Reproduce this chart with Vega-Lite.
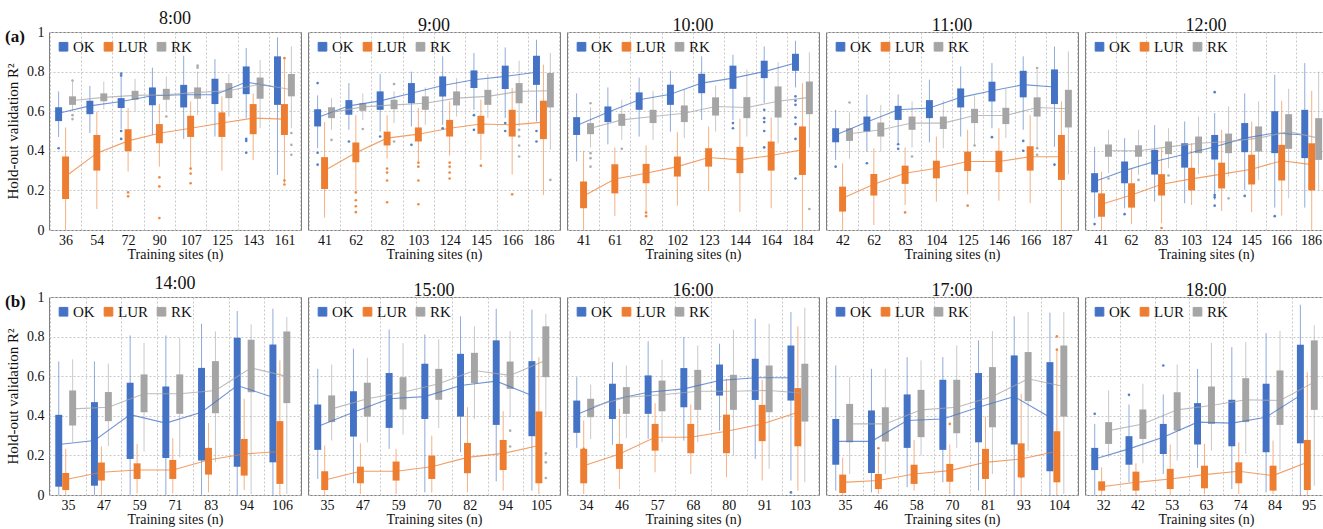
{
"$schema":"https://vega.github.io/schema/vega-lite/v6.json",
"padding":{"left":5,"top":9,"right":0,"bottom":0},
"background":"white",
"config":{
 "font":"Liberation Serif",
 "view":{"stroke":"#7f7f7f","strokeWidth":1},
 "title":{"font":"Liberation Serif","fontSize":18,"fontWeight":"normal","offset":-3,"color":"#111"},
 "axisX":{"labelAngle":0,"ticks":false,"domain":false,"grid":true,"gridDash":[2,2],"gridColor":"#c8c8c8","tickBand":"extent","labelFontSize":14,"labelFont":"Liberation Serif","labelColor":"#111","labelPadding":3,"titleFontSize":14,"titleFont":"Liberation Serif","titleFontWeight":"normal","titleColor":"#111","titlePadding":0},
 "axisY":{"values":[0,0.1,0.2,0.3,0.4,0.5,0.6,0.7,0.8,0.9,1],"labelExpr":"round(datum.value*10) % 2 == 1 ? '' : (datum.value == 0 ? '0' : (datum.value >= 1 ? '1' : format(datum.value, '.1f')))","ticks":false,"domain":false,"grid":true,"gridDash":[2,2],"gridColor":"#c8c8c8","labelFontSize":14,"labelFont":"Liberation Serif","labelColor":"#111","labelPadding":5,"titleFontSize":15,"titleFont":"Liberation Serif","titleFontWeight":"normal","titleColor":"#111","titlePadding":6},
 "legend":{"orient":"top-left","direction":"horizontal","symbolType":"square","symbolSize":75,"symbolStrokeWidth":0,"symbolOpacity":1,"labelFontSize":15,"labelFont":"Liberation Serif","labelColor":"#111","offset":7,"columnPadding":6,"labelOffset":2,"padding":0},
 "rule":{"strokeWidth":1,"opacity":0.6},
 "line":{"strokeWidth":1.1,"opacity":0.75},
 "circle":{"size":7,"opacity":0.9}
},
"datasets":{
"b":[
{"h":"8:00","n":36,"m":"OK","lo":0.47,"q1":0.55,"q3":0.62,"hi":0.70,"mu":0.59},
{"h":"8:00","n":54,"m":"OK","lo":0.49,"q1":0.585,"q3":0.653,"hi":0.728,"mu":0.627},
{"h":"8:00","n":72,"m":"OK","lo":0.51,"q1":0.616,"q3":0.666,"hi":0.776,"mu":0.649},
{"h":"8:00","n":90,"m":"OK","lo":0.48,"q1":0.63,"q3":0.72,"hi":0.82,"mu":0.678},
{"h":"8:00","n":107,"m":"OK","lo":0.46,"q1":0.619,"q3":0.733,"hi":0.88,"mu":0.683},
{"h":"8:00","n":125,"m":"OK","lo":0.472,"q1":0.636,"q3":0.764,"hi":0.863,"mu":0.683},
{"h":"8:00","n":143,"m":"OK","lo":0.565,"q1":0.686,"q3":0.826,"hi":0.919,"mu":0.747},
{"h":"8:00","n":161,"m":"OK","lo":0.278,"q1":0.632,"q3":0.877,"hi":0.973,"mu":0.72},
{"h":"8:00","n":36,"m":"LUR","lo":0,"q1":0.157,"q3":0.371,"hi":0.518,"mu":0.27},
{"h":"8:00","n":54,"m":"LUR","lo":0.106,"q1":0.30,"q3":0.48,"hi":0.599,"mu":0.388},
{"h":"8:00","n":72,"m":"LUR","lo":0.295,"q1":0.398,"q3":0.509,"hi":0.616,"mu":0.45},
{"h":"8:00","n":90,"m":"LUR","lo":0.32,"q1":0.438,"q3":0.535,"hi":0.636,"mu":0.489},
{"h":"8:00","n":107,"m":"LUR","lo":0.315,"q1":0.47,"q3":0.577,"hi":0.65,"mu":0.514},
{"h":"8:00","n":125,"m":"LUR","lo":0.30,"q1":0.47,"q3":0.594,"hi":0.675,"mu":0.54},
{"h":"8:00","n":143,"m":"LUR","lo":0.354,"q1":0.484,"q3":0.636,"hi":0.69,"mu":0.565},
{"h":"8:00","n":161,"m":"LUR","lo":0.236,"q1":0.48,"q3":0.636,"hi":0.86,"mu":0.56},
{"h":"8:00","n":36,"m":"RK","lo":0.599,"q1":0.632,"q3":0.675,"hi":0.75,"mu":0.654},
{"h":"8:00","n":54,"m":"RK","lo":0.61,"q1":0.65,"q3":0.69,"hi":0.75,"mu":0.67},
{"h":"8:00","n":72,"m":"RK","lo":0.599,"q1":0.658,"q3":0.703,"hi":0.764,"mu":0.68},
{"h":"8:00","n":90,"m":"RK","lo":0.60,"q1":0.658,"q3":0.713,"hi":0.776,"mu":0.683},
{"h":"8:00","n":107,"m":"RK","lo":0.58,"q1":0.663,"q3":0.72,"hi":0.80,"mu":0.695},
{"h":"8:00","n":125,"m":"RK","lo":0.573,"q1":0.666,"q3":0.742,"hi":0.788,"mu":0.703},
{"h":"8:00","n":143,"m":"RK","lo":0.514,"q1":0.663,"q3":0.77,"hi":0.858,"mu":0.737},
{"h":"8:00","n":161,"m":"RK","lo":0.514,"q1":0.675,"q3":0.788,"hi":0.927,"mu":0.708},
{"h":"9:00","n":41,"m":"OK","lo":0.413,"q1":0.523,"q3":0.61,"hi":0.68,"mu":0.568},
{"h":"9:00","n":62,"m":"OK","lo":0.506,"q1":0.582,"q3":0.656,"hi":0.742,"mu":0.627},
{"h":"9:00","n":82,"m":"OK","lo":0.497,"q1":0.607,"q3":0.70,"hi":0.788,"mu":0.652},
{"h":"9:00","n":103,"m":"OK","lo":0.523,"q1":0.64,"q3":0.742,"hi":0.80,"mu":0.691},
{"h":"9:00","n":124,"m":"OK","lo":0.531,"q1":0.674,"q3":0.776,"hi":0.877,"mu":0.73},
{"h":"9:00","n":145,"m":"OK","lo":0.607,"q1":0.717,"q3":0.806,"hi":0.894,"mu":0.759},
{"h":"9:00","n":166,"m":"OK","lo":0.565,"q1":0.712,"q3":0.83,"hi":0.922,"mu":0.776},
{"h":"9:00","n":186,"m":"OK","lo":0.548,"q1":0.733,"q3":0.88,"hi":0.961,"mu":0.797},
{"h":"9:00","n":41,"m":"LUR","lo":0.062,"q1":0.207,"q3":0.368,"hi":0.545,"mu":0.30},
{"h":"9:00","n":62,"m":"LUR","lo":0.20,"q1":0.342,"q3":0.442,"hi":0.58,"mu":0.39},
{"h":"9:00","n":82,"m":"LUR","lo":0.36,"q1":0.427,"q3":0.497,"hi":0.58,"mu":0.464},
{"h":"9:00","n":103,"m":"LUR","lo":0.346,"q1":0.447,"q3":0.518,"hi":0.616,"mu":0.484},
{"h":"9:00","n":124,"m":"LUR","lo":0.376,"q1":0.472,"q3":0.556,"hi":0.65,"mu":0.514},
{"h":"9:00","n":145,"m":"LUR","lo":0.354,"q1":0.486,"q3":0.577,"hi":0.658,"mu":0.535},
{"h":"9:00","n":166,"m":"LUR","lo":0.28,"q1":0.472,"q3":0.607,"hi":0.717,"mu":0.531},
{"h":"9:00","n":186,"m":"LUR","lo":0.177,"q1":0.459,"q3":0.653,"hi":0.835,"mu":0.545},
{"h":"9:00","n":41,"m":"RK","lo":0.506,"q1":0.565,"q3":0.62,"hi":0.666,"mu":0.594},
{"h":"9:00","n":62,"m":"RK","lo":0.556,"q1":0.602,"q3":0.641,"hi":0.69,"mu":0.622},
{"h":"9:00","n":82,"m":"RK","lo":0.54,"q1":0.61,"q3":0.658,"hi":0.70,"mu":0.632},
{"h":"9:00","n":103,"m":"RK","lo":0.531,"q1":0.607,"q3":0.675,"hi":0.72,"mu":0.64},
{"h":"9:00","n":124,"m":"RK","lo":0.573,"q1":0.629,"q3":0.70,"hi":0.767,"mu":0.666},
{"h":"9:00","n":145,"m":"RK","lo":0.565,"q1":0.632,"q3":0.708,"hi":0.788,"mu":0.675},
{"h":"9:00","n":166,"m":"RK","lo":0.523,"q1":0.64,"q3":0.742,"hi":0.855,"mu":0.70},
{"h":"9:00","n":186,"m":"RK","lo":0.405,"q1":0.619,"q3":0.793,"hi":0.894,"mu":0.703},
{"h":"10:00","n":41,"m":"OK","lo":0.346,"q1":0.48,"q3":0.57,"hi":0.69,"mu":0.528},
{"h":"10:00","n":61,"m":"OK","lo":0.433,"q1":0.545,"q3":0.624,"hi":0.72,"mu":0.595},
{"h":"10:00","n":82,"m":"OK","lo":0.472,"q1":0.607,"q3":0.695,"hi":0.77,"mu":0.658},
{"h":"10:00","n":102,"m":"OK","lo":0.497,"q1":0.632,"q3":0.734,"hi":0.804,"mu":0.686},
{"h":"10:00","n":123,"m":"OK","lo":0.556,"q1":0.691,"q3":0.789,"hi":0.877,"mu":0.742},
{"h":"10:00","n":144,"m":"OK","lo":0.556,"q1":0.713,"q3":0.83,"hi":0.885,"mu":0.767},
{"h":"10:00","n":164,"m":"OK","lo":0.64,"q1":0.767,"q3":0.855,"hi":0.927,"mu":0.80},
{"h":"10:00","n":184,"m":"OK","lo":0.72,"q1":0.804,"q3":0.89,"hi":0.956,"mu":0.843},
{"h":"10:00","n":41,"m":"LUR","lo":0,"q1":0.11,"q3":0.245,"hi":0.40,"mu":0.172},
{"h":"10:00","n":61,"m":"LUR","lo":0.07,"q1":0.185,"q3":0.332,"hi":0.417,"mu":0.258},
{"h":"10:00","n":82,"m":"LUR","lo":0.093,"q1":0.236,"q3":0.334,"hi":0.427,"mu":0.287},
{"h":"10:00","n":102,"m":"LUR","lo":0.123,"q1":0.27,"q3":0.371,"hi":0.494,"mu":0.32},
{"h":"10:00","n":123,"m":"LUR","lo":0.20,"q1":0.32,"q3":0.413,"hi":0.523,"mu":0.366},
{"h":"10:00","n":144,"m":"LUR","lo":0.09,"q1":0.287,"q3":0.42,"hi":0.562,"mu":0.354},
{"h":"10:00","n":164,"m":"LUR","lo":0.11,"q1":0.30,"q3":0.447,"hi":0.568,"mu":0.376},
{"h":"10:00","n":184,"m":"LUR","lo":0,"q1":0.278,"q3":0.523,"hi":0.742,"mu":0.405},
{"h":"10:00","n":41,"m":"RK","lo":0.417,"q1":0.484,"q3":0.54,"hi":0.62,"mu":0.514},
{"h":"10:00","n":61,"m":"RK","lo":0.455,"q1":0.526,"q3":0.587,"hi":0.658,"mu":0.556},
{"h":"10:00","n":82,"m":"RK","lo":0.455,"q1":0.54,"q3":0.607,"hi":0.703,"mu":0.573},
{"h":"10:00","n":102,"m":"RK","lo":0.464,"q1":0.545,"q3":0.629,"hi":0.712,"mu":0.59},
{"h":"10:00","n":123,"m":"RK","lo":0.497,"q1":0.578,"q3":0.67,"hi":0.73,"mu":0.624},
{"h":"10:00","n":144,"m":"RK","lo":0.472,"q1":0.565,"q3":0.671,"hi":0.81,"mu":0.619},
{"h":"10:00","n":164,"m":"RK","lo":0.438,"q1":0.568,"q3":0.725,"hi":0.848,"mu":0.65},
{"h":"10:00","n":184,"m":"RK","lo":0.417,"q1":0.585,"q3":0.75,"hi":0.897,"mu":0.67},
{"h":"11:00","n":42,"m":"OK","lo":0.354,"q1":0.443,"q3":0.514,"hi":0.607,"mu":0.48},
{"h":"11:00","n":62,"m":"OK","lo":0.396,"q1":0.497,"q3":0.573,"hi":0.683,"mu":0.545},
{"h":"11:00","n":83,"m":"OK","lo":0.438,"q1":0.556,"q3":0.627,"hi":0.685,"mu":0.607},
{"h":"11:00","n":104,"m":"OK","lo":0.443,"q1":0.565,"q3":0.656,"hi":0.759,"mu":0.616},
{"h":"11:00","n":125,"m":"OK","lo":0.472,"q1":0.619,"q3":0.715,"hi":0.826,"mu":0.67},
{"h":"11:00","n":146,"m":"OK","lo":0.514,"q1":0.649,"q3":0.749,"hi":0.843,"mu":0.703},
{"h":"11:00","n":166,"m":"OK","lo":0.506,"q1":0.67,"q3":0.804,"hi":0.877,"mu":0.734},
{"h":"11:00","n":187,"m":"OK","lo":0.42,"q1":0.636,"q3":0.811,"hi":0.927,"mu":0.722},
{"h":"11:00","n":42,"m":"LUR","lo":0,"q1":0.093,"q3":0.219,"hi":0.337,"mu":0.16},
{"h":"11:00","n":62,"m":"LUR","lo":0.025,"q1":0.174,"q3":0.283,"hi":0.413,"mu":0.231},
{"h":"11:00","n":83,"m":"LUR","lo":0.126,"q1":0.233,"q3":0.325,"hi":0.417,"mu":0.287},
{"h":"11:00","n":104,"m":"LUR","lo":0.143,"q1":0.261,"q3":0.35,"hi":0.472,"mu":0.312},
{"h":"11:00","n":125,"m":"LUR","lo":0.18,"q1":0.298,"q3":0.396,"hi":0.506,"mu":0.346},
{"h":"11:00","n":146,"m":"LUR","lo":0.148,"q1":0.292,"q3":0.40,"hi":0.514,"mu":0.346},
{"h":"11:00","n":166,"m":"LUR","lo":0.135,"q1":0.30,"q3":0.423,"hi":0.58,"mu":0.37},
{"h":"11:00","n":187,"m":"LUR","lo":0,"q1":0.253,"q3":0.48,"hi":0.65,"mu":0.37},
{"h":"11:00","n":42,"m":"RK","lo":0.36,"q1":0.45,"q3":0.514,"hi":0.594,"mu":0.486},
{"h":"11:00","n":62,"m":"RK","lo":0.396,"q1":0.472,"q3":0.543,"hi":0.632,"mu":0.506},
{"h":"11:00","n":83,"m":"RK","lo":0.417,"q1":0.506,"q3":0.573,"hi":0.65,"mu":0.54},
{"h":"11:00","n":104,"m":"RK","lo":0.413,"q1":0.51,"q3":0.573,"hi":0.653,"mu":0.54},
{"h":"11:00","n":125,"m":"RK","lo":0.428,"q1":0.54,"q3":0.612,"hi":0.68,"mu":0.578},
{"h":"11:00","n":146,"m":"RK","lo":0.464,"q1":0.535,"q3":0.617,"hi":0.713,"mu":0.578},
{"h":"11:00","n":166,"m":"RK","lo":0.413,"q1":0.573,"q3":0.67,"hi":0.81,"mu":0.619},
{"h":"11:00","n":187,"m":"RK","lo":0.28,"q1":0.518,"q3":0.708,"hi":0.902,"mu":0.612},
{"h":"12:00","n":41,"m":"OK","lo":0.06,"q1":0.19,"q3":0.287,"hi":0.42,"mu":0.245},
{"h":"12:00","n":62,"m":"OK","lo":0.11,"q1":0.236,"q3":0.346,"hi":0.464,"mu":0.30},
{"h":"12:00","n":83,"m":"OK","lo":0.143,"q1":0.28,"q3":0.405,"hi":0.53,"mu":0.346},
{"h":"12:00","n":103,"m":"OK","lo":0.135,"q1":0.315,"q3":0.438,"hi":0.548,"mu":0.383},
{"h":"12:00","n":124,"m":"OK","lo":0.152,"q1":0.356,"q3":0.48,"hi":0.59,"mu":0.42},
{"h":"12:00","n":145,"m":"OK","lo":0.20,"q1":0.393,"q3":0.54,"hi":0.69,"mu":0.464},
{"h":"12:00","n":166,"m":"OK","lo":0.113,"q1":0.388,"q3":0.60,"hi":0.784,"mu":0.49},
{"h":"12:00","n":186,"m":"OK","lo":0.113,"q1":0.363,"q3":0.607,"hi":0.843,"mu":0.48},
{"h":"12:00","n":41,"m":"LUR","lo":0,"q1":0.067,"q3":0.185,"hi":0.295,"mu":0.13},
{"h":"12:00","n":62,"m":"LUR","lo":0.03,"q1":0.113,"q3":0.236,"hi":0.312,"mu":0.177},
{"h":"12:00","n":83,"m":"LUR","lo":0.034,"q1":0.174,"q3":0.282,"hi":0.413,"mu":0.231},
{"h":"12:00","n":103,"m":"LUR","lo":0.126,"q1":0.20,"q3":0.314,"hi":0.438,"mu":0.258},
{"h":"12:00","n":124,"m":"LUR","lo":0.096,"q1":0.21,"q3":0.34,"hi":0.506,"mu":0.282},
{"h":"12:00","n":145,"m":"LUR","lo":0.09,"q1":0.23,"q3":0.38,"hi":0.548,"mu":0.307},
{"h":"12:00","n":166,"m":"LUR","lo":0.073,"q1":0.25,"q3":0.43,"hi":0.653,"mu":0.35},
{"h":"12:00","n":186,"m":"LUR","lo":0,"q1":0.20,"q3":0.438,"hi":0.703,"mu":0.33},
{"h":"12:00","n":41,"m":"RK","lo":0.287,"q1":0.37,"q3":0.432,"hi":0.506,"mu":0.40},
{"h":"12:00","n":62,"m":"RK","lo":0.278,"q1":0.37,"q3":0.428,"hi":0.506,"mu":0.40},
{"h":"12:00","n":83,"m":"RK","lo":0.312,"q1":0.383,"q3":0.447,"hi":0.514,"mu":0.42},
{"h":"12:00","n":103,"m":"RK","lo":0.282,"q1":0.388,"q3":0.472,"hi":0.573,"mu":0.438},
{"h":"12:00","n":124,"m":"RK","lo":0.27,"q1":0.388,"q3":0.487,"hi":0.624,"mu":0.447},
{"h":"12:00","n":145,"m":"RK","lo":0.253,"q1":0.396,"q3":0.523,"hi":0.65,"mu":0.464},
{"h":"12:00","n":166,"m":"RK","lo":0.16,"q1":0.41,"q3":0.585,"hi":0.713,"mu":0.497},
{"h":"12:00","n":186,"m":"RK","lo":0.20,"q1":0.354,"q3":0.565,"hi":0.80,"mu":0.464},
{"h":"14:00","n":35,"m":"OK","lo":0,"q1":0.042,"q3":0.405,"hi":0.675,"mu":0.255},
{"h":"14:00","n":47,"m":"OK","lo":0,"q1":0.047,"q3":0.469,"hi":0.675,"mu":0.275},
{"h":"14:00","n":59,"m":"OK","lo":0,"q1":0.182,"q3":0.567,"hi":0.806,"mu":0.406},
{"h":"14:00","n":71,"m":"OK","lo":0,"q1":0.187,"q3":0.548,"hi":0.806,"mu":0.363},
{"h":"14:00","n":83,"m":"OK","lo":0,"q1":0.174,"q3":0.642,"hi":0.865,"mu":0.418},
{"h":"14:00","n":94,"m":"OK","lo":0,"q1":0.143,"q3":0.794,"hi":0.929,"mu":0.553},
{"h":"14:00","n":106,"m":"OK","lo":0,"q1":0.165,"q3":0.76,"hi":0.941,"mu":0.494},
{"h":"14:00","n":35,"m":"LUR","lo":0,"q1":0.025,"q3":0.111,"hi":0.233,"mu":0.078},
{"h":"14:00","n":47,"m":"LUR","lo":0,"q1":0.073,"q3":0.164,"hi":0.245,"mu":0.115},
{"h":"14:00","n":59,"m":"LUR","lo":0.008,"q1":0.081,"q3":0.16,"hi":0.258,"mu":0.126},
{"h":"14:00","n":71,"m":"LUR","lo":0.008,"q1":0.081,"q3":0.177,"hi":0.287,"mu":0.126},
{"h":"14:00","n":83,"m":"LUR","lo":0.013,"q1":0.103,"q3":0.238,"hi":0.363,"mu":0.177},
{"h":"14:00","n":94,"m":"LUR","lo":0.025,"q1":0.098,"q3":0.283,"hi":0.486,"mu":0.207},
{"h":"14:00","n":106,"m":"LUR","lo":0,"q1":0.056,"q3":0.373,"hi":0.68,"mu":0.22},
{"h":"14:00","n":35,"m":"RK","lo":0.266,"q1":0.351,"q3":0.528,"hi":0.685,"mu":0.435},
{"h":"14:00","n":47,"m":"RK","lo":0.246,"q1":0.373,"q3":0.52,"hi":0.663,"mu":0.443},
{"h":"14:00","n":59,"m":"RK","lo":0.219,"q1":0.418,"q3":0.609,"hi":0.769,"mu":0.511},
{"h":"14:00","n":71,"m":"RK","lo":0.19,"q1":0.41,"q3":0.609,"hi":0.793,"mu":0.511},
{"h":"14:00","n":83,"m":"RK","lo":0.165,"q1":0.413,"q3":0.676,"hi":0.826,"mu":0.528},
{"h":"14:00","n":94,"m":"RK","lo":0.005,"q1":0.519,"q3":0.784,"hi":0.862,"mu":0.642},
{"h":"14:00","n":106,"m":"RK","lo":0.005,"q1":0.464,"q3":0.826,"hi":0.899,"mu":0.599},
{"h":"15:00","n":35,"m":"OK","lo":0.081,"q1":0.228,"q3":0.457,"hi":0.637,"mu":0.346},
{"h":"15:00","n":47,"m":"OK","lo":0.059,"q1":0.295,"q3":0.524,"hi":0.739,"mu":0.418},
{"h":"15:00","n":59,"m":"OK","lo":0.233,"q1":0.339,"q3":0.616,"hi":0.836,"mu":0.486},
{"h":"15:00","n":70,"m":"OK","lo":0.013,"q1":0.384,"q3":0.663,"hi":0.811,"mu":0.497},
{"h":"15:00","n":82,"m":"OK","lo":0.216,"q1":0.396,"q3":0.713,"hi":0.902,"mu":0.553},
{"h":"15:00","n":94,"m":"OK","lo":0.069,"q1":0.354,"q3":0.781,"hi":0.941,"mu":0.575},
{"h":"15:00","n":105,"m":"OK","lo":0.022,"q1":0.297,"q3":0.676,"hi":0.936,"mu":0.503},
{"h":"15:00","n":35,"m":"LUR","lo":0,"q1":0.025,"q3":0.12,"hi":0.25,"mu":0.076},
{"h":"15:00","n":47,"m":"LUR","lo":0.005,"q1":0.059,"q3":0.143,"hi":0.261,"mu":0.12},
{"h":"15:00","n":59,"m":"LUR","lo":0.005,"q1":0.073,"q3":0.169,"hi":0.233,"mu":0.12},
{"h":"15:00","n":70,"m":"LUR","lo":0.013,"q1":0.081,"q3":0.199,"hi":0.30,"mu":0.143},
{"h":"15:00","n":82,"m":"LUR","lo":0.013,"q1":0.11,"q3":0.263,"hi":0.443,"mu":0.19},
{"h":"15:00","n":94,"m":"LUR","lo":0.022,"q1":0.126,"q3":0.278,"hi":0.423,"mu":0.21},
{"h":"15:00","n":105,"m":"LUR","lo":0.005,"q1":0.059,"q3":0.422,"hi":0.696,"mu":0.25},
{"h":"15:00","n":35,"m":"RK","lo":0.275,"q1":0.368,"q3":0.503,"hi":0.659,"mu":0.435},
{"h":"15:00","n":47,"m":"RK","lo":0.266,"q1":0.396,"q3":0.567,"hi":0.693,"mu":0.486},
{"h":"15:00","n":59,"m":"RK","lo":0.305,"q1":0.432,"q3":0.595,"hi":0.767,"mu":0.519},
{"h":"15:00","n":70,"m":"RK","lo":0.339,"q1":0.481,"q3":0.637,"hi":0.786,"mu":0.562},
{"h":"15:00","n":82,"m":"RK","lo":0.384,"q1":0.565,"q3":0.718,"hi":0.852,"mu":0.629},
{"h":"15:00","n":94,"m":"RK","lo":0.393,"q1":0.536,"q3":0.674,"hi":0.828,"mu":0.604},
{"h":"15:00","n":105,"m":"RK","lo":0.401,"q1":0.595,"q3":0.852,"hi":0.916,"mu":0.68},
{"h":"16:00","n":34,"m":"OK","lo":0.238,"q1":0.314,"q3":0.477,"hi":0.595,"mu":0.406},
{"h":"16:00","n":46,"m":"OK","lo":0.253,"q1":0.384,"q3":0.562,"hi":0.671,"mu":0.481},
{"h":"16:00","n":57,"m":"OK","lo":0.283,"q1":0.41,"q3":0.604,"hi":0.776,"mu":0.519},
{"h":"16:00","n":68,"m":"OK","lo":0.275,"q1":0.443,"q3":0.641,"hi":0.798,"mu":0.536},
{"h":"16:00","n":80,"m":"OK","lo":0.325,"q1":0.502,"q3":0.659,"hi":0.764,"mu":0.578},
{"h":"16:00","n":91,"m":"OK","lo":0.182,"q1":0.48,"q3":0.688,"hi":0.89,"mu":0.592},
{"h":"16:00","n":103,"m":"OK","lo":0.073,"q1":0.477,"q3":0.755,"hi":0.924,"mu":0.592},
{"h":"16:00","n":34,"m":"LUR","lo":0.005,"q1":0.059,"q3":0.233,"hi":0.376,"mu":0.148},
{"h":"16:00","n":46,"m":"LUR","lo":0.03,"q1":0.132,"q3":0.258,"hi":0.435,"mu":0.207},
{"h":"16:00","n":57,"m":"LUR","lo":0.115,"q1":0.224,"q3":0.359,"hi":0.464,"mu":0.292},
{"h":"16:00","n":68,"m":"LUR","lo":0.106,"q1":0.211,"q3":0.359,"hi":0.457,"mu":0.292},
{"h":"16:00","n":80,"m":"LUR","lo":0.089,"q1":0.211,"q3":0.406,"hi":0.587,"mu":0.322},
{"h":"16:00","n":91,"m":"LUR","lo":0.073,"q1":0.272,"q3":0.455,"hi":0.582,"mu":0.359},
{"h":"16:00","n":103,"m":"LUR","lo":0.022,"q1":0.246,"q3":0.54,"hi":0.852,"mu":0.418},
{"h":"16:00","n":34,"m":"RK","lo":0.283,"q1":0.393,"q3":0.486,"hi":0.558,"mu":0.443},
{"h":"16:00","n":46,"m":"RK","lo":0.287,"q1":0.41,"q3":0.545,"hi":0.654,"mu":0.494},
{"h":"16:00","n":57,"m":"RK","lo":0.266,"q1":0.423,"q3":0.578,"hi":0.683,"mu":0.506},
{"h":"16:00","n":68,"m":"RK","lo":0.266,"q1":0.43,"q3":0.632,"hi":0.755,"mu":0.524},
{"h":"16:00","n":80,"m":"RK","lo":0.199,"q1":0.43,"q3":0.607,"hi":0.835,"mu":0.524},
{"h":"16:00","n":91,"m":"RK","lo":0.132,"q1":0.418,"q3":0.654,"hi":0.865,"mu":0.528},
{"h":"16:00","n":103,"m":"RK","lo":0.064,"q1":0.371,"q3":0.663,"hi":0.946,"mu":0.514},
{"h":"17:00","n":35,"m":"OK","lo":0.022,"q1":0.153,"q3":0.384,"hi":0.654,"mu":0.271},
{"h":"17:00","n":46,"m":"OK","lo":0.013,"q1":0.111,"q3":0.427,"hi":0.637,"mu":0.271},
{"h":"17:00","n":58,"m":"OK","lo":0.039,"q1":0.238,"q3":0.508,"hi":0.696,"mu":0.376},
{"h":"17:00","n":70,"m":"OK","lo":0.064,"q1":0.228,"q3":0.582,"hi":0.696,"mu":0.384},
{"h":"17:00","n":81,"m":"OK","lo":0.022,"q1":0.266,"q3":0.616,"hi":0.781,"mu":0.443},
{"h":"17:00","n":93,"m":"OK","lo":0,"q1":0.255,"q3":0.705,"hi":0.902,"mu":0.497},
{"h":"17:00","n":104,"m":"OK","lo":0,"q1":0.12,"q3":0.671,"hi":0.921,"mu":0.393},
{"h":"17:00","n":35,"m":"LUR","lo":0,"q1":0.01,"q3":0.103,"hi":0.19,"mu":0.064},
{"h":"17:00","n":46,"m":"LUR","lo":0.005,"q1":0.03,"q3":0.106,"hi":0.216,"mu":0.073},
{"h":"17:00","n":58,"m":"LUR","lo":0.022,"q1":0.056,"q3":0.153,"hi":0.278,"mu":0.106},
{"h":"17:00","n":70,"m":"LUR","lo":0.005,"q1":0.067,"q3":0.157,"hi":0.255,"mu":0.123},
{"h":"17:00","n":81,"m":"LUR","lo":0,"q1":0.081,"q3":0.233,"hi":0.396,"mu":0.165},
{"h":"17:00","n":93,"m":"LUR","lo":0,"q1":0.089,"q3":0.261,"hi":0.511,"mu":0.182},
{"h":"17:00","n":104,"m":"LUR","lo":0,"q1":0.064,"q3":0.322,"hi":0.73,"mu":0.221},
{"h":"17:00","n":35,"m":"RK","lo":0.106,"q1":0.266,"q3":0.46,"hi":0.595,"mu":0.359},
{"h":"17:00","n":46,"m":"RK","lo":0.106,"q1":0.27,"q3":0.443,"hi":0.637,"mu":0.359},
{"h":"17:00","n":58,"m":"RK","lo":0.199,"q1":0.292,"q3":0.531,"hi":0.68,"mu":0.43},
{"h":"17:00","n":70,"m":"RK","lo":0.238,"q1":0.312,"q3":0.582,"hi":0.755,"mu":0.443},
{"h":"17:00","n":81,"m":"RK","lo":0.106,"q1":0.342,"q3":0.646,"hi":0.828,"mu":0.497},
{"h":"17:00","n":93,"m":"RK","lo":0.224,"q1":0.474,"q3":0.722,"hi":0.924,"mu":0.587},
{"h":"17:00","n":104,"m":"RK","lo":0.005,"q1":0.396,"q3":0.755,"hi":0.924,"mu":0.548},
{"h":"18:00","n":32,"m":"OK","lo":0,"q1":0.126,"q3":0.238,"hi":0.359,"mu":0.182},
{"h":"18:00","n":42,"m":"OK","lo":0.064,"q1":0.153,"q3":0.297,"hi":0.457,"mu":0.233},
{"h":"18:00","n":53,"m":"OK","lo":0.106,"q1":0.207,"q3":0.359,"hi":0.508,"mu":0.292},
{"h":"18:00","n":63,"m":"OK","lo":0.137,"q1":0.255,"q3":0.464,"hi":0.637,"mu":0.368},
{"h":"18:00","n":74,"m":"OK","lo":0.03,"q1":0.246,"q3":0.481,"hi":0.747,"mu":0.363},
{"h":"18:00","n":84,"m":"OK","lo":0.013,"q1":0.216,"q3":0.562,"hi":0.818,"mu":0.393},
{"h":"18:00","n":95,"m":"OK","lo":0,"q1":0.261,"q3":0.759,"hi":0.961,"mu":0.503},
{"h":"18:00","n":32,"m":"LUR","lo":0,"q1":0.022,"q3":0.069,"hi":0.14,"mu":0.042},
{"h":"18:00","n":42,"m":"LUR","lo":0,"q1":0.022,"q3":0.118,"hi":0.16,"mu":0.064},
{"h":"18:00","n":53,"m":"LUR","lo":0,"q1":0.03,"q3":0.132,"hi":0.255,"mu":0.081},
{"h":"18:00","n":63,"m":"LUR","lo":0.005,"q1":0.034,"q3":0.148,"hi":0.258,"mu":0.103},
{"h":"18:00","n":74,"m":"LUR","lo":0.005,"q1":0.059,"q3":0.165,"hi":0.266,"mu":0.12},
{"h":"18:00","n":84,"m":"LUR","lo":0.005,"q1":0.022,"q3":0.148,"hi":0.275,"mu":0.098},
{"h":"18:00","n":95,"m":"LUR","lo":0,"q1":0.025,"q3":0.278,"hi":0.62,"mu":0.165},
{"h":"18:00","n":32,"m":"RK","lo":0.19,"q1":0.258,"q3":0.368,"hi":0.528,"mu":0.325},
{"h":"18:00","n":42,"m":"RK","lo":0.16,"q1":0.283,"q3":0.432,"hi":0.562,"mu":0.359},
{"h":"18:00","n":53,"m":"RK","lo":0.174,"q1":0.325,"q3":0.519,"hi":0.659,"mu":0.43},
{"h":"18:00","n":63,"m":"RK","lo":0.224,"q1":0.359,"q3":0.548,"hi":0.769,"mu":0.452},
{"h":"18:00","n":74,"m":"RK","lo":0.207,"q1":0.368,"q3":0.59,"hi":0.772,"mu":0.481},
{"h":"18:00","n":84,"m":"RK","lo":0.123,"q1":0.354,"q3":0.629,"hi":0.828,"mu":0.477},
{"h":"18:00","n":95,"m":"RK","lo":0.047,"q1":0.43,"q3":0.781,"hi":0.857,"mu":0.57}
],
"o":[
{"h":"8:00","n":36,"m":"OK","v":0.413},{"h":"8:00","n":72,"m":"OK","v":0.79},{"h":"8:00","n":72,"m":"OK","v":0.78},{"h":"8:00","n":72,"m":"OK","v":0.50},{"h":"8:00","n":72,"m":"OK","v":0.46},
{"h":"8:00","n":143,"m":"OK","v":0.46},{"h":"8:00","n":143,"m":"OK","v":0.45},{"h":"8:00","n":143,"m":"OK","v":0.39},
{"h":"8:00","n":72,"m":"LUR","v":0.19},{"h":"8:00","n":72,"m":"LUR","v":0.17},{"h":"8:00","n":90,"m":"LUR","v":0.266},{"h":"8:00","n":90,"m":"LUR","v":0.22},{"h":"8:00","n":90,"m":"LUR","v":0.06},
{"h":"8:00","n":107,"m":"LUR","v":0.31},{"h":"8:00","n":107,"m":"LUR","v":0.285},{"h":"8:00","n":107,"m":"LUR","v":0.236},{"h":"8:00","n":161,"m":"LUR","v":0.868},{"h":"8:00","n":161,"m":"LUR","v":0.25},{"h":"8:00","n":161,"m":"LUR","v":0.23},
{"h":"8:00","n":36,"m":"RK","v":0.755},{"h":"8:00","n":36,"m":"RK","v":0.58},{"h":"8:00","n":36,"m":"RK","v":0.56},{"h":"8:00","n":90,"m":"RK","v":0.573},{"h":"8:00","n":107,"m":"RK","v":0.83},{"h":"8:00","n":107,"m":"RK","v":0.82},
{"h":"8:00","n":161,"m":"RK","v":0.49},{"h":"8:00","n":161,"m":"RK","v":0.43},{"h":"8:00","n":161,"m":"RK","v":0.38},
{"h":"9:00","n":41,"m":"OK","v":0.742},{"h":"9:00","n":41,"m":"OK","v":0.39},{"h":"9:00","n":41,"m":"OK","v":0.33},{"h":"9:00","n":62,"m":"OK","v":0.447},{"h":"9:00","n":82,"m":"OK","v":0.472},{"h":"9:00","n":103,"m":"OK","v":0.43},
{"h":"9:00","n":124,"m":"OK","v":0.514},{"h":"9:00","n":145,"m":"OK","v":0.58},{"h":"9:00","n":145,"m":"OK","v":0.506},{"h":"9:00","n":166,"m":"OK","v":0.54},{"h":"9:00","n":166,"m":"OK","v":0.50},{"h":"9:00","n":186,"m":"OK","v":0.50},{"h":"9:00","n":186,"m":"OK","v":0.447},
{"h":"9:00","n":62,"m":"LUR","v":0.19},{"h":"9:00","n":62,"m":"LUR","v":0.15},{"h":"9:00","n":62,"m":"LUR","v":0.12},{"h":"9:00","n":62,"m":"LUR","v":0.09},
{"h":"9:00","n":82,"m":"LUR","v":0.31},{"h":"9:00","n":82,"m":"LUR","v":0.29},{"h":"9:00","n":82,"m":"LUR","v":0.25},{"h":"9:00","n":82,"m":"LUR","v":0.14},
{"h":"9:00","n":103,"m":"LUR","v":0.34},{"h":"9:00","n":103,"m":"LUR","v":0.32},{"h":"9:00","n":103,"m":"LUR","v":0.25},{"h":"9:00","n":103,"m":"LUR","v":0.13},
{"h":"9:00","n":124,"m":"LUR","v":0.34},{"h":"9:00","n":124,"m":"LUR","v":0.32},{"h":"9:00","n":124,"m":"LUR","v":0.29},{"h":"9:00","n":124,"m":"LUR","v":0.26},
{"h":"9:00","n":145,"m":"LUR","v":0.325},{"h":"9:00","n":166,"m":"LUR","v":0.18},
{"h":"9:00","n":41,"m":"RK","v":0.455},{"h":"9:00","n":62,"m":"RK","v":0.51},{"h":"9:00","n":82,"m":"RK","v":0.737},{"h":"9:00","n":82,"m":"RK","v":0.447},
{"h":"9:00","n":166,"m":"RK","v":0.506},{"h":"9:00","n":166,"m":"RK","v":0.472},{"h":"9:00","n":166,"m":"RK","v":0.427},{"h":"9:00","n":166,"m":"RK","v":0.371},{"h":"9:00","n":186,"m":"RK","v":0.253},
{"h":"10:00","n":144,"m":"OK","v":0.54},{"h":"10:00","n":144,"m":"OK","v":0.514},
{"h":"10:00","n":164,"m":"OK","v":0.607},{"h":"10:00","n":164,"m":"OK","v":0.565},{"h":"10:00","n":164,"m":"OK","v":0.545},{"h":"10:00","n":164,"m":"OK","v":0.50},{"h":"10:00","n":164,"m":"OK","v":0.417},
{"h":"10:00","n":184,"m":"OK","v":0.675},{"h":"10:00","n":184,"m":"OK","v":0.653},{"h":"10:00","n":184,"m":"OK","v":0.632},{"h":"10:00","n":184,"m":"OK","v":0.568},{"h":"10:00","n":184,"m":"OK","v":0.535},{"h":"10:00","n":184,"m":"OK","v":0.46},{"h":"10:00","n":184,"m":"OK","v":0.26},
{"h":"10:00","n":41,"m":"LUR","v":0.18},{"h":"10:00","n":82,"m":"LUR","v":0.088},{"h":"10:00","n":82,"m":"LUR","v":0.07},
{"h":"10:00","n":184,"m":"RK","v":0.106},{"h":"10:00","n":41,"m":"RK","v":0.64},{"h":"10:00","n":41,"m":"RK","v":0.388},{"h":"10:00","n":41,"m":"RK","v":0.363},{"h":"10:00","n":41,"m":"RK","v":0.32},{"h":"10:00","n":61,"m":"RK","v":0.41},
{"h":"11:00","n":42,"m":"OK","v":0.32},{"h":"11:00","n":62,"m":"OK","v":0.337},{"h":"11:00","n":83,"m":"OK","v":0.433},{"h":"11:00","n":83,"m":"OK","v":0.41},{"h":"11:00","n":146,"m":"OK","v":0.469},
{"h":"11:00","n":166,"m":"OK","v":0.45},{"h":"11:00","n":166,"m":"OK","v":0.40},{"h":"11:00","n":187,"m":"OK","v":0.33},
{"h":"11:00","n":83,"m":"LUR","v":0.089},{"h":"11:00","n":125,"m":"LUR","v":0.123},
{"h":"11:00","n":42,"m":"RK","v":0.644},{"h":"11:00","n":83,"m":"RK","v":0.371},{"h":"11:00","n":125,"m":"RK","v":0.427},{"h":"11:00","n":166,"m":"RK","v":0.818},{"h":"11:00","n":166,"m":"RK","v":0.413},{"h":"11:00","n":166,"m":"RK","v":0.38},
{"h":"12:00","n":41,"m":"OK","v":0.03},{"h":"12:00","n":62,"m":"OK","v":0.08},{"h":"12:00","n":124,"m":"OK","v":0.696},{"h":"12:00","n":124,"m":"OK","v":0.177},{"h":"12:00","n":124,"m":"OK","v":0.165},{"h":"12:00","n":124,"m":"OK","v":0.123},
{"h":"12:00","n":145,"m":"OK","v":0.172},{"h":"12:00","n":166,"m":"OK","v":0.07},{"h":"12:00","n":83,"m":"LUR","v":0.01},
{"h":"12:00","n":41,"m":"RK","v":0.26},{"h":"12:00","n":62,"m":"RK","v":0.253},{"h":"12:00","n":83,"m":"RK","v":0.275},{"h":"12:00","n":124,"m":"RK","v":0.16},
{"h":"15:00","n":94,"m":"RK","v":0.325},{"h":"15:00","n":94,"m":"RK","v":0.245},{"h":"15:00","n":105,"m":"RK","v":0.21},{"h":"15:00","n":105,"m":"RK","v":0.165},{"h":"15:00","n":105,"m":"RK","v":0.086},
{"h":"16:00","n":103,"m":"OK","v":0.013},{"h":"16:00","n":34,"m":"LUR","v":0.233},
{"h":"17:00","n":46,"m":"LUR","v":0.236},{"h":"17:00","n":70,"m":"LUR","v":0.359},{"h":"17:00","n":93,"m":"LUR","v":0.093},{"h":"17:00","n":104,"m":"LUR","v":0.801},{"h":"17:00","n":104,"m":"LUR","v":0.734},
{"h":"18:00","n":32,"m":"OK","v":0.41},{"h":"18:00","n":42,"m":"OK","v":0.506},{"h":"18:00","n":53,"m":"OK","v":0.654}
]
},
"spacing":12,
"resolve":{"scale":{"color":"independent"},"legend":{"color":"independent"}},
"vconcat":[
{"title":{"text":"(a)","anchor":"start","frame":"bounds","fontWeight":"bold","fontSize":17,"offset":0,"dy":36},
 "spacing":5,
 "resolve":{"scale":{"color":"independent"},"legend":{"color":"independent"}},
 "hconcat":[
{"width":252,"height":198,"title":"8:00","data":{"name":"b"},"transform":[{"filter":"datum.h=='8:00'"}],
"encoding":{"x":{"field":"n","type":"ordinal","title":"Training sites (n)","scale":{"paddingInner":0,"paddingOuter":0.03}},
"xOffset":{"field":"m","type":"nominal","sort":["OK","LUR","RK"],"scale":{"paddingInner":0,"paddingOuter":0.75}},
"color":{"field":"m","type":"nominal","sort":["OK","LUR","RK"],"scale":{"domain":["OK","LUR","RK"],"range":["#4472C4","#ED7D31","#A5A5A5"]},"legend":{"title":null,"symbolType":"square","symbolFillOpacity":1}}},
"layer":[
{"mark":"rule","encoding":{"y":{"field":"lo","type":"quantitative","scale":{"domain":[0,1]},"title":"Hold-out validation R²"},"y2":{"field":"hi"}}},
{"mark":"bar","encoding":{"y":{"field":"q1","type":"quantitative","title":"Hold-out validation R²"},"y2":{"field":"q3"}}},
{"mark":"line","encoding":{"y":{"field":"mu","type":"quantitative","title":"Hold-out validation R²"}}},
{"data":{"name":"o"},"transform":[{"filter":"datum.h=='8:00'"}],"mark":"circle","encoding":{"y":{"field":"v","type":"quantitative","title":"Hold-out validation R²"}}}
]},
{"width":252,"height":198,"title":"9:00","data":{"name":"b"},"transform":[{"filter":"datum.h=='9:00'"}],
"encoding":{"x":{"field":"n","type":"ordinal","title":"Training sites (n)","scale":{"paddingInner":0,"paddingOuter":0.03}},
"xOffset":{"field":"m","type":"nominal","sort":["OK","LUR","RK"],"scale":{"paddingInner":0,"paddingOuter":0.75}},
"color":{"field":"m","type":"nominal","sort":["OK","LUR","RK"],"scale":{"domain":["OK","LUR","RK"],"range":["#4472C4","#ED7D31","#A5A5A5"]},"legend":{"title":null,"symbolType":"square","symbolFillOpacity":1}}},
"layer":[
{"mark":"rule","encoding":{"y":{"field":"lo","type":"quantitative","scale":{"domain":[0,1]},"title":null,"axis":{"labels":false}},"y2":{"field":"hi"}}},
{"mark":"bar","encoding":{"y":{"field":"q1","type":"quantitative","title":null,"axis":{"labels":false}},"y2":{"field":"q3"}}},
{"mark":"line","encoding":{"y":{"field":"mu","type":"quantitative","title":null,"axis":{"labels":false}}}},
{"data":{"name":"o"},"transform":[{"filter":"datum.h=='9:00'"}],"mark":"circle","encoding":{"y":{"field":"v","type":"quantitative","title":null,"axis":{"labels":false}}}}
]},
{"width":252,"height":198,"title":"10:00","data":{"name":"b"},"transform":[{"filter":"datum.h=='10:00'"}],
"encoding":{"x":{"field":"n","type":"ordinal","title":"Training sites (n)","scale":{"paddingInner":0,"paddingOuter":0.03}},
"xOffset":{"field":"m","type":"nominal","sort":["OK","LUR","RK"],"scale":{"paddingInner":0,"paddingOuter":0.75}},
"color":{"field":"m","type":"nominal","sort":["OK","LUR","RK"],"scale":{"domain":["OK","LUR","RK"],"range":["#4472C4","#ED7D31","#A5A5A5"]},"legend":{"title":null,"symbolType":"square","symbolFillOpacity":1}}},
"layer":[
{"mark":"rule","encoding":{"y":{"field":"lo","type":"quantitative","scale":{"domain":[0,1]},"title":null,"axis":{"labels":false}},"y2":{"field":"hi"}}},
{"mark":"bar","encoding":{"y":{"field":"q1","type":"quantitative","title":null,"axis":{"labels":false}},"y2":{"field":"q3"}}},
{"mark":"line","encoding":{"y":{"field":"mu","type":"quantitative","title":null,"axis":{"labels":false}}}},
{"data":{"name":"o"},"transform":[{"filter":"datum.h=='10:00'"}],"mark":"circle","encoding":{"y":{"field":"v","type":"quantitative","title":null,"axis":{"labels":false}}}}
]},
{"width":252,"height":198,"title":"11:00","data":{"name":"b"},"transform":[{"filter":"datum.h=='11:00'"}],
"encoding":{"x":{"field":"n","type":"ordinal","title":"Training sites (n)","scale":{"paddingInner":0,"paddingOuter":0.03}},
"xOffset":{"field":"m","type":"nominal","sort":["OK","LUR","RK"],"scale":{"paddingInner":0,"paddingOuter":0.75}},
"color":{"field":"m","type":"nominal","sort":["OK","LUR","RK"],"scale":{"domain":["OK","LUR","RK"],"range":["#4472C4","#ED7D31","#A5A5A5"]},"legend":{"title":null,"symbolType":"square","symbolFillOpacity":1}}},
"layer":[
{"mark":"rule","encoding":{"y":{"field":"lo","type":"quantitative","scale":{"domain":[0,1]},"title":null,"axis":{"labels":false}},"y2":{"field":"hi"}}},
{"mark":"bar","encoding":{"y":{"field":"q1","type":"quantitative","title":null,"axis":{"labels":false}},"y2":{"field":"q3"}}},
{"mark":"line","encoding":{"y":{"field":"mu","type":"quantitative","title":null,"axis":{"labels":false}}}},
{"data":{"name":"o"},"transform":[{"filter":"datum.h=='11:00'"}],"mark":"circle","encoding":{"y":{"field":"v","type":"quantitative","title":null,"axis":{"labels":false}}}}
]},
{"width":242,"height":198,"title":"12:00","data":{"name":"b"},"transform":[{"filter":"datum.h=='12:00'"}],
"encoding":{"x":{"field":"n","type":"ordinal","title":"Training sites (n)","scale":{"paddingInner":0,"paddingOuter":0.03}},
"xOffset":{"field":"m","type":"nominal","sort":["OK","LUR","RK"],"scale":{"paddingInner":0,"paddingOuter":0.75}},
"color":{"field":"m","type":"nominal","sort":["OK","LUR","RK"],"scale":{"domain":["OK","LUR","RK"],"range":["#4472C4","#ED7D31","#A5A5A5"]},"legend":{"title":null,"symbolType":"square","symbolFillOpacity":1}}},
"layer":[
{"mark":"rule","encoding":{"y":{"field":"lo","type":"quantitative","scale":{"domain":[0,1]},"title":null,"axis":{"labels":false}},"y2":{"field":"hi"}}},
{"mark":"bar","encoding":{"y":{"field":"q1","type":"quantitative","title":null,"axis":{"labels":false}},"y2":{"field":"q3"}}},
{"mark":"line","encoding":{"y":{"field":"mu","type":"quantitative","title":null,"axis":{"labels":false}}}},
{"data":{"name":"o"},"transform":[{"filter":"datum.h=='12:00'"}],"mark":"circle","encoding":{"y":{"field":"v","type":"quantitative","title":null,"axis":{"labels":false}}}}
]}
]},
{"title":{"text":"(b)","anchor":"start","frame":"bounds","fontWeight":"bold","fontSize":17,"offset":0,"dy":36},
 "spacing":5,
 "resolve":{"scale":{"color":"independent"},"legend":{"color":"independent"}},
 "hconcat":[
{"width":252,"height":198,"title":"14:00","data":{"name":"b"},"transform":[{"filter":"datum.h=='14:00'"}],
"encoding":{"x":{"field":"n","type":"ordinal","title":"Training sites (n)","scale":{"paddingInner":0,"paddingOuter":0.03}},
"xOffset":{"field":"m","type":"nominal","sort":["OK","LUR","RK"],"scale":{"paddingInner":0,"paddingOuter":1.07}},
"color":{"field":"m","type":"nominal","sort":["OK","LUR","RK"],"scale":{"domain":["OK","LUR","RK"],"range":["#4472C4","#ED7D31","#A5A5A5"]},"legend":{"title":null,"symbolType":"square","symbolFillOpacity":1}}},
"layer":[
{"mark":"rule","encoding":{"y":{"field":"lo","type":"quantitative","scale":{"domain":[0,1]},"title":"Hold-out validation R²"},"y2":{"field":"hi"}}},
{"mark":"bar","encoding":{"y":{"field":"q1","type":"quantitative","title":"Hold-out validation R²"},"y2":{"field":"q3"}}},
{"mark":"line","encoding":{"y":{"field":"mu","type":"quantitative","title":"Hold-out validation R²"}}},
{"data":{"name":"o"},"transform":[{"filter":"datum.h=='14:00'"}],"mark":"circle","encoding":{"y":{"field":"v","type":"quantitative","title":"Hold-out validation R²"}}}
]},
{"width":252,"height":198,"title":"15:00","data":{"name":"b"},"transform":[{"filter":"datum.h=='15:00'"}],
"encoding":{"x":{"field":"n","type":"ordinal","title":"Training sites (n)","scale":{"paddingInner":0,"paddingOuter":0.03}},
"xOffset":{"field":"m","type":"nominal","sort":["OK","LUR","RK"],"scale":{"paddingInner":0,"paddingOuter":1.07}},
"color":{"field":"m","type":"nominal","sort":["OK","LUR","RK"],"scale":{"domain":["OK","LUR","RK"],"range":["#4472C4","#ED7D31","#A5A5A5"]},"legend":{"title":null,"symbolType":"square","symbolFillOpacity":1}}},
"layer":[
{"mark":"rule","encoding":{"y":{"field":"lo","type":"quantitative","scale":{"domain":[0,1]},"title":null,"axis":{"labels":false}},"y2":{"field":"hi"}}},
{"mark":"bar","encoding":{"y":{"field":"q1","type":"quantitative","title":null,"axis":{"labels":false}},"y2":{"field":"q3"}}},
{"mark":"line","encoding":{"y":{"field":"mu","type":"quantitative","title":null,"axis":{"labels":false}}}},
{"data":{"name":"o"},"transform":[{"filter":"datum.h=='15:00'"}],"mark":"circle","encoding":{"y":{"field":"v","type":"quantitative","title":null,"axis":{"labels":false}}}}
]},
{"width":252,"height":198,"title":"16:00","data":{"name":"b"},"transform":[{"filter":"datum.h=='16:00'"}],
"encoding":{"x":{"field":"n","type":"ordinal","title":"Training sites (n)","scale":{"paddingInner":0,"paddingOuter":0.03}},
"xOffset":{"field":"m","type":"nominal","sort":["OK","LUR","RK"],"scale":{"paddingInner":0,"paddingOuter":1.07}},
"color":{"field":"m","type":"nominal","sort":["OK","LUR","RK"],"scale":{"domain":["OK","LUR","RK"],"range":["#4472C4","#ED7D31","#A5A5A5"]},"legend":{"title":null,"symbolType":"square","symbolFillOpacity":1}}},
"layer":[
{"mark":"rule","encoding":{"y":{"field":"lo","type":"quantitative","scale":{"domain":[0,1]},"title":null,"axis":{"labels":false}},"y2":{"field":"hi"}}},
{"mark":"bar","encoding":{"y":{"field":"q1","type":"quantitative","title":null,"axis":{"labels":false}},"y2":{"field":"q3"}}},
{"mark":"line","encoding":{"y":{"field":"mu","type":"quantitative","title":null,"axis":{"labels":false}}}},
{"data":{"name":"o"},"transform":[{"filter":"datum.h=='16:00'"}],"mark":"circle","encoding":{"y":{"field":"v","type":"quantitative","title":null,"axis":{"labels":false}}}}
]},
{"width":252,"height":198,"title":"17:00","data":{"name":"b"},"transform":[{"filter":"datum.h=='17:00'"}],
"encoding":{"x":{"field":"n","type":"ordinal","title":"Training sites (n)","scale":{"paddingInner":0,"paddingOuter":0.03}},
"xOffset":{"field":"m","type":"nominal","sort":["OK","LUR","RK"],"scale":{"paddingInner":0,"paddingOuter":1.07}},
"color":{"field":"m","type":"nominal","sort":["OK","LUR","RK"],"scale":{"domain":["OK","LUR","RK"],"range":["#4472C4","#ED7D31","#A5A5A5"]},"legend":{"title":null,"symbolType":"square","symbolFillOpacity":1}}},
"layer":[
{"mark":"rule","encoding":{"y":{"field":"lo","type":"quantitative","scale":{"domain":[0,1]},"title":null,"axis":{"labels":false}},"y2":{"field":"hi"}}},
{"mark":"bar","encoding":{"y":{"field":"q1","type":"quantitative","title":null,"axis":{"labels":false}},"y2":{"field":"q3"}}},
{"mark":"line","encoding":{"y":{"field":"mu","type":"quantitative","title":null,"axis":{"labels":false}}}},
{"data":{"name":"o"},"transform":[{"filter":"datum.h=='17:00'"}],"mark":"circle","encoding":{"y":{"field":"v","type":"quantitative","title":null,"axis":{"labels":false}}}}
]},
{"width":242,"height":198,"title":"18:00","data":{"name":"b"},"transform":[{"filter":"datum.h=='18:00'"}],
"encoding":{"x":{"field":"n","type":"ordinal","title":"Training sites (n)","scale":{"paddingInner":0,"paddingOuter":0.03}},
"xOffset":{"field":"m","type":"nominal","sort":["OK","LUR","RK"],"scale":{"paddingInner":0,"paddingOuter":1.07}},
"color":{"field":"m","type":"nominal","sort":["OK","LUR","RK"],"scale":{"domain":["OK","LUR","RK"],"range":["#4472C4","#ED7D31","#A5A5A5"]},"legend":{"title":null,"symbolType":"square","symbolFillOpacity":1}}},
"layer":[
{"mark":"rule","encoding":{"y":{"field":"lo","type":"quantitative","scale":{"domain":[0,1]},"title":null,"axis":{"labels":false}},"y2":{"field":"hi"}}},
{"mark":"bar","encoding":{"y":{"field":"q1","type":"quantitative","title":null,"axis":{"labels":false}},"y2":{"field":"q3"}}},
{"mark":"line","encoding":{"y":{"field":"mu","type":"quantitative","title":null,"axis":{"labels":false}}}},
{"data":{"name":"o"},"transform":[{"filter":"datum.h=='18:00'"}],"mark":"circle","encoding":{"y":{"field":"v","type":"quantitative","title":null,"axis":{"labels":false}}}}
]}
]}
]
}
